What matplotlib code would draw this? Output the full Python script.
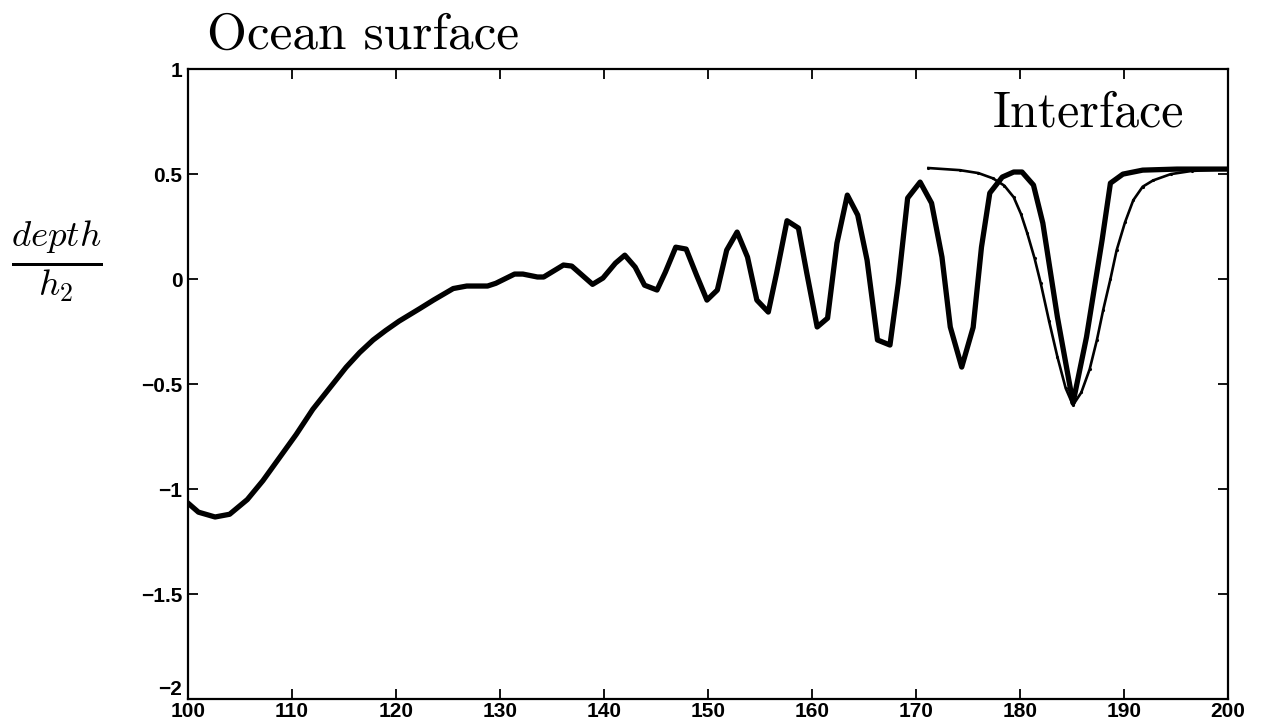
import matplotlib
matplotlib.use("Agg")
from matplotlib import rcParams, pyplot as plt

rcParams["mathtext.fontset"] = "cm"

# thick curve (interface displacement, sampled about once per unit)
wave_x = [100.0, 101.0, 102.6, 104.0, 105.7, 107.2, 108.8, 110.4, 112.0, 113.6,
          115.2, 116.5, 117.8, 119.0, 120.3, 122.3, 123.6, 125.5, 126.8, 128.8,
          129.6, 131.4, 132.2, 133.6, 134.2, 136.1, 136.9, 138.9, 139.9, 141.1,
          142.0, 143.0, 143.9, 145.1, 145.9, 146.9, 147.9, 148.9, 149.9, 150.9,
          151.8, 152.8, 153.8, 154.7, 155.8, 156.6, 157.6, 158.7, 159.5, 160.5,
          161.5, 162.4, 163.4, 164.4, 165.3, 166.3, 167.5, 168.3, 169.2, 170.4,
          171.5, 172.5, 173.3, 174.4, 175.5, 176.3, 177.1, 178.3, 179.4, 180.2,
          181.3, 182.2, 183.6, 185.1, 186.4, 187.9, 188.7, 189.9, 191.8, 195.1,
          200.0]
wave_y = [-1.067, -1.11, -1.133, -1.12, -1.05, -0.96, -0.85, -0.74, -0.62, -0.52,
          -0.42, -0.35, -0.29, -0.245, -0.20, -0.14, -0.10, -0.045, -0.033, -0.033,
          -0.02, 0.024, 0.024, 0.01, 0.01, 0.067, 0.062, -0.025, 0.005, 0.076,
          0.114, 0.057, -0.029, -0.052, 0.033, 0.152, 0.143, 0.019, -0.10, -0.052,
          0.138, 0.224, 0.105, -0.10, -0.157, 0.029, 0.278, 0.243, 0.029, -0.228,
          -0.186, 0.171, 0.40, 0.305, 0.09, -0.29, -0.314, -0.02, 0.386, 0.462,
          0.362, 0.105, -0.228, -0.419, -0.23, 0.152, 0.41, 0.486, 0.51, 0.51,
          0.448, 0.267, -0.18, -0.59, -0.276, 0.186, 0.457, 0.50, 0.519, 0.524,
          0.524]

# thin curve (solitary wave)
sol_x = [171.2, 174.2, 176.0, 177.4, 178.5, 179.4, 180.1, 180.7, 181.4, 182.0,
         182.8, 183.6, 184.4, 185.1, 185.9, 186.7, 187.4, 188.0, 188.7, 189.3,
         190.1, 190.9, 191.8, 192.8, 194.5, 196.5, 200.0]
sol_y = [0.529, 0.519, 0.505, 0.48, 0.445, 0.39, 0.31, 0.219, 0.10, -0.02,
         -0.20, -0.37, -0.52, -0.60, -0.54, -0.43, -0.29, -0.148, 0.0, 0.138,
         0.27, 0.376, 0.44, 0.47, 0.50, 0.515, 0.524]

x_ticks = [100, 110, 120, 130, 140, 150, 160, 170, 180, 190, 200]
y_ticks = [-2, -1.5, -1, -0.5, 0, 0.5, 1]
y_tick_labels = ["\u22122", "\u22121.5", "\u22121", "\u22120.5", "0", "0.5", "1"]


def plot():
    fig = plt.figure(figsize=(12.62, 7.24), dpi=100)
    ax = fig.add_axes([0.149, 0.0345, 0.824, 0.870])

    ax.plot(wave_x, wave_y, color="black", linewidth=3.8, solid_joinstyle="round")
    ax.plot(sol_x, sol_y, color="black", linewidth=1.9, marker=".", markersize=2.5)

    ax.set_xlim(100, 200)
    ax.set_ylim(-2, 1)
    ax.set_xticks(x_ticks)
    ax.set_xticklabels([str(v) for v in x_ticks])
    ax.set_yticks(y_ticks)
    ax.set_yticklabels(y_tick_labels)
    ax.tick_params(direction="in", length=7, width=1.3, top=True, right=True,
                   labelsize=15, pad=4)
    ax.tick_params(axis="x", pad=2)
    for lbl in ax.get_xticklabels() + ax.get_yticklabels():
        lbl.set_fontweight("bold")
        lbl.set_fontfamily("Liberation Sans")
    # bottom y label sits raised, as in the original
    ax.get_yticklabels()[0].set_verticalalignment("bottom")
    for sp in ax.spines.values():
        sp.set_linewidth(1.6)

    fig.text(0.164, 0.950, "Ocean surface", fontfamily="cmr10", fontsize=37,
             ha="left", va="center")
    ax.text(0.958, 0.93, "Interface", transform=ax.transAxes, fontfamily="cmr10",
            fontsize=36, ha="right", va="center")
    fig.text(0.045, 0.638, r"$\frac{depth}{h_2}$", fontsize=38, ha="center",
             va="center")

    fig.savefig("out.png", dpi=100)


if __name__ == '__main__':
    plot()
